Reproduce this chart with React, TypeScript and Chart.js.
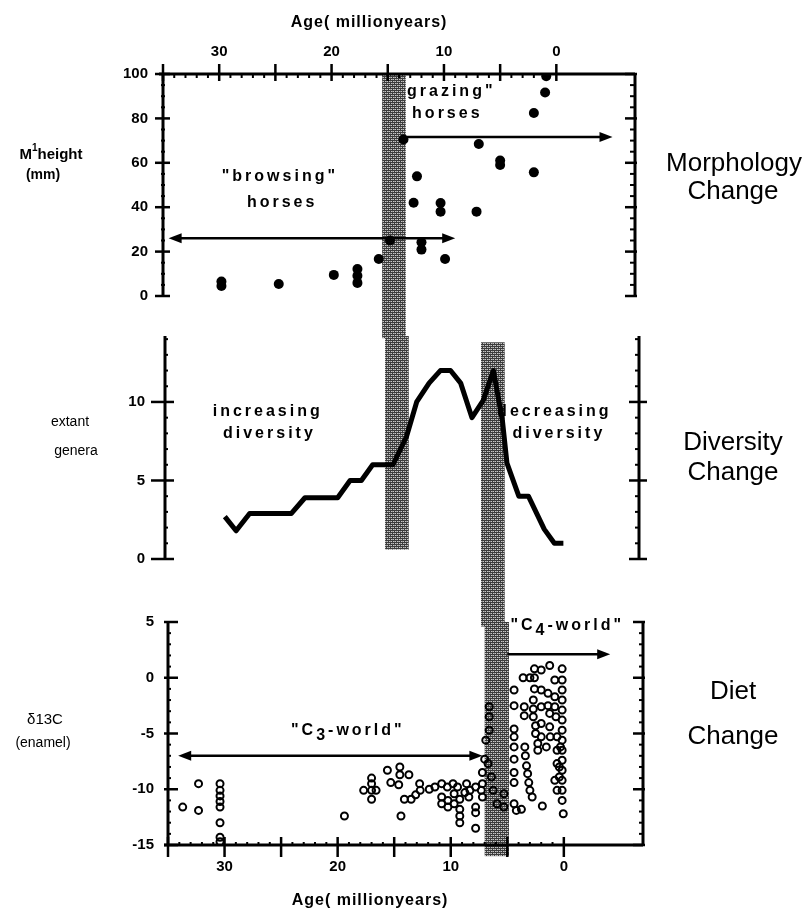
import React, { useEffect, useRef } from 'react';
import { Chart, registerables } from 'chart.js';

Chart.register(...registerables);

// ---------- shared age axis (million years, plotted reversed) ----------
const AGE_MIN = -7;
const AGE_MAX = 35;
const ageLabelTicks = [30, 20, 10, 0];
const ageMajorTicks = [35, 30, 25, 20, 15, 10, 5, 0];
const ageMinorTicks = [34, 33, 32, 31, 29, 28, 27, 26, 24, 23, 22, 21, 19, 18, 17, 16, 14, 13, 12, 11, 9, 8, 7, 6, 4, 3, 2, 1];

// ---------- panel 1: M1 crown height (mm) ----------
const heightTicks = [0, 20, 40, 60, 80, 100];
const heightMinor = [5, 10, 15, 25, 30, 35, 45, 50, 55, 65, 70, 75, 85, 90, 95];
const heightAge = [29.8, 29.8, 24.7, 19.8, 17.7, 17.7, 17.7, 15.8, 14.8, 13.6, 12.4, 12.7, 12.0, 12.0, 10.3, 10.3, 9.9, 7.1, 6.9, 5.0, 5.0, 2.0, 2.0, 1.0, 0.9];
const heightMm = [6.5, 4.5, 5.4, 9.5, 12.2, 9.1, 5.9, 16.7, 25, 70.5, 53.9, 42, 24.2, 20.9, 41.9, 38, 16.7, 38, 68.5, 61, 59, 55.7, 82.4, 91.7, 99];

// ---------- panel 2: extant genera ----------
const generaTicks = [0, 5, 10];
const generaMinor = [1, 2, 3, 4, 6, 7, 8, 9, 11, 12, 13, 14];
const generaAge = [29.7, 28.7, 27.5, 23.8, 22.6, 19.7, 18.6, 17.6, 16.6, 14.8, 13.6, 12.7, 11.6, 10.6, 9.7, 8.8, 7.8, 6.8, 5.9, 5.1, 4.7, 3.65, 2.8, 1.4, 0.5, -0.3];
const generaCount = [2.7, 1.8, 2.9, 2.9, 3.9, 3.9, 5, 5, 6, 6, 7.8, 10, 11.2, 12, 12, 11.2, 9, 10.1, 12, 8.8, 6.1, 4, 4, 1.9, 1, 1];

// ---------- panel 3: delta 13C of enamel ----------
const d13cTicks = [-15, -10, -5, 0, 5];
const d13cMinor = [-14, -13, -12, -11, -9, -8, -7, -6, -4, -3, -2, -1, 1, 2, 3, 4];
const d13cAge = [
  33.7, 32.3, 32.3, 30.4, 30.4, 30.4, 30.4, 30.4, 30.4, 30.4, 30.4,
  19.4, 17.7, 17.0, 17.0, 17.0, 17.0, 16.6, 15.6, 15.3, 14.5, 14.5, 14.6, 13.7, 14.4,
  14.1, 13.5, 13.1, 12.75, 12.7, 11.9, 11.4, 10.8, 10.3, 9.8, 9.4, 8.6, 7.8,
  10.8, 10.8, 10.25, 10.25, 9.7, 9.7, 9.2, 9.2, 9.2, 9.2, 8.75, 8.4, 7.8, 7.8, 7.8,
  8.3, 7.3, 7.2, 7.2, 7.2, 7.0, 6.9, 6.6, 6.6, 6.6, 6.7, 6.4, 6.25, 5.9, 5.3, 5.3,
  4.4, 4.4, 4.4, 4.4, 4.4, 4.4, 4.4, 4.4, 4.4, 4.2, 3.75,
  3.6, 3.5, 3.5, 3.45, 3.4, 3.3, 3.2, 3.1, 3.0, 2.8,
  3.0, 2.6, 2.6, 2.6, 2.7, 2.7, 2.7, 2.5, 2.5, 2.3, 2.3, 1.9,
  2.0, 2.0, 2.0, 2.0, 2.0, 1.25, 1.4, 1.4, 1.25, 1.25, 1.2, 1.55,
  0.8, 0.8, 0.8, 0.7, 0.6, 0.6, 0.6, 0.8, 0.6,
  0.15, 0.15, 0.15, 0.15, 0.15, 0.15, 0.15, 0.15, 0.15, 0.15, 0.15, 0.15, 0.15, 0.15, 0.05,
  0.3, 0.4, 0.4,
];
const d13cValue = [
  -11.6, -9.5, -11.9, -9.5, -10.1, -10.6, -11.1, -11.6, -13.0, -14.3, -14.7,
  -12.4, -10.1, -9.0, -9.5, -10.1, -10.9, -10.1, -8.3, -9.4, -8.0, -8.7, -9.6, -8.7, -12.4,
  -10.9, -10.9, -10.5, -9.5, -10.1, -10.0, -9.8, -9.5, -9.8, -9.5, -9.8, -9.5, -9.8,
  -10.7, -11.3, -11.0, -11.6, -10.4, -11.3, -10.9, -11.8, -12.4, -13.0, -10.3, -10.7, -11.6, -12.1, -13.5,
  -10.1, -10.1, -10.7, -9.5, -8.5, -7.3, -5.6, -2.6, -3.5, -4.7, -7.7, -8.9, -10.1, -11.3, -11.6, -10.4,
  -1.1, -2.5, -4.6, -5.3, -6.2, -7.3, -8.5, -9.4, -11.3, -11.9, -11.8,
  0, -2.6, -3.4, -6.2, -7.0, -7.9, -8.6, -9.4, -10.1, -10.7,
  0, 0.8, 0, -1.0, -2.0, -2.8, -3.5, -4.3, -5.0, -5.9, -6.5, -11.5,
  0.7, -1.1, -2.6, -4.1, -5.3, 1.1, -1.4, -2.5, -3.2, -4.4, -5.3, -6.2,
  -0.2, -1.7, -2.6, -3.5, -5.3, -6.5, -7.7, -9.2, -10.1,
  0.8, -0.2, -1.1, -2.0, -2.9, -3.8, -4.7, -5.6, -6.5, -7.4, -8.3, -9.2, -10.1, -11.0, -12.2,
  -6.2, -8.0, -8.9,
];

// ---------- transition bands (age from, age to, value high, value low in each panel) ----------
const bandTop = [{ from: 15.5, to: 13.4, high: 100, low: -19 }];
const bandMid = [
  { from: 15.5, to: 13.4, high: 14.2, low: 0.6 },
  { from: 7.0, to: 4.9, high: 13.8, low: -4.3 },
];
const bandBot = [{ from: 7.0, to: 4.85, high: 5, low: -16 }];

// ---------- arrows (age from, age to, value) ----------
const arrowsTop = [
  { from: 34.5, to: 9.0, y: 26, both: true },
  { from: 13.6, to: -5.0, y: 71.6, both: false },
];
const arrowsBot = [
  { from: 34.1, to: 7.2, y: -7.0, both: true },
  { from: 5.0, to: -4.1, y: 2.1, both: false },
];

const FONT = '"Liberation Sans", Arial, Helvetica, sans-serif';

type Run = { t: string; dy?: number };
type Note = { runs: Run[]; x: number; y: number };
type Band = { from: number; to: number; high: number; low: number };
type ArrowDef = { from: number; to: number; y: number; both: boolean };
type AxisDef = {
  side: 'top' | 'bottom' | 'left' | 'right';
  majors: number[];
  minors: number[];
  majOut: number;
  majIn: number;
  minOut: number;
  minIn: number;
};

const notesTop: Note[] = [
  { runs: [{ t: '"browsing"' }], x: 24.6, y: 54 },
  { runs: [{ t: 'horses' }], x: 24.4, y: 42 },
  { runs: [{ t: 'grazing"' }], x: 9.35, y: 92.2 },
  { runs: [{ t: 'horses' }], x: 9.7, y: 82 },
];
const notesMid: Note[] = [
  { runs: [{ t: 'increasing' }], x: 25.9, y: 9.4 },
  { runs: [{ t: 'diversity' }], x: 25.75, y: 8.0 },
  { runs: [{ t: 'decreasing' }], x: 0.5, y: 9.4 },
  { runs: [{ t: 'diversity' }], x: 0.1, y: 8.0 },
];
const notesBot: Note[] = [
  { runs: [{ t: '"C' }, { t: '3', dy: 5 }, { t: '-world"' }], x: 19.1, y: -4.7 },
  { runs: [{ t: '"C' }, { t: '4', dy: 5 }, { t: '-world"' }], x: -0.3, y: 4.7 },
];

function bandPattern(ctx: CanvasRenderingContext2D) {
  const c = document.createElement('canvas');
  c.width = 4;
  c.height = 4;
  const g = c.getContext('2d')!;
  g.fillStyle = '#3c3c3c';
  g.fillRect(0, 0, 4, 4);
  g.fillStyle = '#c8c8c8';
  g.fillRect(1, 1, 1, 1);
  g.fillRect(3, 3, 1, 1);
  g.fillRect(1, 3, 1, 1);
  g.fillRect(3, 1, 1, 1);
  g.fillStyle = '#8a8a8a';
  g.fillRect(2, 1, 1, 1);
  g.fillRect(0, 3, 1, 1);
  return ctx.createPattern(c, 'repeat')!;
}

function decor(bands: Band[], axes: AxisDef[], arrows: ArrowDef[], notes: Note[]) {
  return {
    id: 'decor',
    beforeDatasetsDraw(chart: any) {
      const { ctx, scales } = chart;
      const x = scales.x;
      const y = scales.y;
      ctx.save();
      ctx.fillStyle = bandPattern(ctx);
      bands.forEach((b) => {
        const x1 = x.getPixelForValue(b.from);
        const x2 = x.getPixelForValue(b.to);
        const y1 = y.getPixelForValue(b.high);
        const y2 = y.getPixelForValue(b.low);
        ctx.fillRect(Math.min(x1, x2), Math.min(y1, y2), Math.abs(x2 - x1), Math.abs(y2 - y1));
      });
      ctx.restore();
    },
    afterDatasetsDraw(chart: any) {
      const { ctx, scales, chartArea: a } = chart;
      const x = scales.x;
      const y = scales.y;
      ctx.save();
      ctx.strokeStyle = '#000';
      ctx.fillStyle = '#000';
      ctx.lineCap = 'butt';
      axes.forEach((ax) => {
        ctx.lineWidth = 3;
        ctx.beginPath();
        if (ax.side === 'top' || ax.side === 'bottom') {
          const y0 = ax.side === 'top' ? a.top : a.bottom;
          const s = ax.side === 'top' ? -1 : 1;
          ctx.moveTo(a.left - 4, y0);
          ctx.lineTo(a.right, y0);
          ctx.stroke();
          const tick = (v: number, out: number, inn: number, w: number) => {
            const px = x.getPixelForValue(v);
            ctx.lineWidth = w;
            ctx.beginPath();
            ctx.moveTo(px, y0 + s * out);
            ctx.lineTo(px, y0 - s * inn);
            ctx.stroke();
          };
          ax.majors.forEach((v) => tick(v, ax.majOut, ax.majIn, 2.5));
          ax.minors.forEach((v) => tick(v, ax.minOut, ax.minIn, 2));
        } else {
          const x0 = ax.side === 'left' ? a.left : a.right;
          const s = ax.side === 'left' ? -1 : 1;
          ctx.moveTo(x0, a.top);
          ctx.lineTo(x0, a.bottom + 1);
          ctx.stroke();
          const tick = (v: number, out: number, inn: number, w: number) => {
            const py = y.getPixelForValue(v);
            ctx.lineWidth = w;
            ctx.beginPath();
            ctx.moveTo(x0 + s * out, py);
            ctx.lineTo(x0 - s * inn, py);
            ctx.stroke();
          };
          ax.majors.forEach((v) => tick(v, ax.majOut, ax.majIn, 2.5));
          ax.minors.forEach((v) => tick(v, ax.minOut, ax.minIn, 2));
        }
      });
      arrows.forEach((ar) => {
        const x1 = x.getPixelForValue(ar.from);
        const x2 = x.getPixelForValue(ar.to);
        const py = y.getPixelForValue(ar.y);
        const head = 13;
        const half = 5;
        ctx.lineWidth = 2.5;
        ctx.beginPath();
        ctx.moveTo(ar.both ? x1 + head - 2 : x1, py);
        ctx.lineTo(x2 - head + 2, py);
        ctx.stroke();
        ctx.beginPath();
        ctx.moveTo(x2, py);
        ctx.lineTo(x2 - head, py - half);
        ctx.lineTo(x2 - head, py + half);
        ctx.closePath();
        ctx.fill();
        if (ar.both) {
          ctx.beginPath();
          ctx.moveTo(x1, py);
          ctx.lineTo(x1 + head, py - half);
          ctx.lineTo(x1 + head, py + half);
          ctx.closePath();
          ctx.fill();
        }
      });
      ctx.font = 'bold 16px ' + FONT;
      (ctx as any).letterSpacing = '3px';
      ctx.textBaseline = 'middle';
      ctx.textAlign = 'left';
      notes.forEach((n) => {
        const widths = n.runs.map((r) => ctx.measureText(r.t).width);
        const total = widths.reduce((p, q) => p + q, 0);
        let cx = x.getPixelForValue(n.x) - total / 2;
        const cy = y.getPixelForValue(n.y);
        n.runs.forEach((r, i) => {
          ctx.fillText(r.t, cx, cy + (r.dy || 0));
          cx += widths[i];
        });
      });
      ctx.restore();
    },
  };
}

const tickFont = { family: FONT, size: 15, weight: 'bold' as const };

function ageScale(position: 'top' | 'bottom' | 'none') {
  const shown = position !== 'none';
  return {
    type: 'linear' as const,
    display: shown,
    position: shown ? position : 'bottom',
    min: AGE_MIN,
    max: AGE_MAX,
    reverse: true,
    afterBuildTicks: (s: any) => {
      s.ticks = ageLabelTicks.map((v) => ({ value: v }));
    },
    afterFit: (s: any) => {
      s.height = shown ? 40 : 0;
    },
    grid: { display: false, drawTicks: false },
    border: { display: false },
    ticks: { padding: 13, font: tickFont, color: '#000', maxRotation: 0, autoSkip: false },
  };
}

function valueScale(min: number, max: number, ticks: number[], padding: number) {
  return {
    type: 'linear' as const,
    position: 'left' as const,
    min,
    max,
    afterBuildTicks: (s: any) => {
      s.ticks = ticks.map((v) => ({ value: v }));
    },
    afterFit: (s: any) => {
      s.width = 60;
    },
    grid: { display: false, drawTicks: false },
    border: { display: false },
    ticks: { padding, font: tickFont, color: '#000', autoSkip: false },
  };
}

const baseOpts = {
  responsive: false,
  maintainAspectRatio: false,
  animation: false as const,
  events: [] as any[],
  plugins: { legend: { display: false }, tooltip: { enabled: false } },
};

function cfgTop(): any {
  return {
    type: 'scatter',
    data: {
      datasets: [
        {
          data: heightAge.map((a, i) => ({ x: a, y: heightMm[i] })),
          pointRadius: 5,
          pointBackgroundColor: '#000',
          pointBorderWidth: 0,
          pointBorderColor: '#000',
        },
      ],
    },
    options: {
      ...baseOpts,
      layout: { padding: { left: 163 - 60, right: 806 - 635, top: 74 - 40, bottom: 913 - 296 } },
      scales: { x: ageScale('top'), y: valueScale(0, 100, heightTicks, 15) },
    },
    plugins: [
      decor(
        bandTop,
        [
          { side: 'top', majors: ageMajorTicks, minors: ageMinorTicks, majOut: 10, majIn: 7, minOut: 0, minIn: 4 },
          { side: 'left', majors: heightTicks, minors: heightMinor, majOut: 8, majIn: 7, minOut: 2, minIn: 2 },
          { side: 'right', majors: heightTicks, minors: heightMinor, majOut: 2, majIn: 10, minOut: 0, minIn: 5 },
        ],
        arrowsTop,
        notesTop
      ),
    ],
  };
}

function cfgMid(): any {
  return {
    type: 'line',
    data: {
      datasets: [
        {
          data: generaAge.map((a, i) => ({ x: a, y: generaCount[i] })),
          borderColor: '#000',
          borderWidth: 5,
          pointRadius: 0,
          tension: 0,
          fill: false,
          borderJoinStyle: 'round',
        },
      ],
    },
    options: {
      ...baseOpts,
      layout: { padding: { left: 165 - 60, right: 806 - 639, top: 336, bottom: 913 - 559 } },
      scales: { x: ageScale('none'), y: valueScale(0, 14.2, generaTicks, 20) },
    },
    plugins: [
      decor(
        bandMid,
        [
          { side: 'left', majors: generaTicks, minors: generaMinor, majOut: 14, majIn: 9, minOut: 0, minIn: 3 },
          { side: 'right', majors: generaTicks, minors: generaMinor, majOut: 8, majIn: 10, minOut: 0, minIn: 4 },
        ],
        [],
        notesMid
      ),
    ],
  };
}

function cfgBot(): any {
  return {
    type: 'scatter',
    data: {
      datasets: [
        {
          data: d13cAge.map((a, i) => ({ x: a, y: d13cValue[i] })),
          pointRadius: 3.5,
          pointBorderWidth: 2,
          pointBorderColor: '#000',
          pointBackgroundColor: 'rgba(0,0,0,0)',
        },
      ],
    },
    options: {
      ...baseOpts,
      layout: { padding: { left: 168 - 60, right: 806 - 643, top: 622, bottom: 913 - 845 - 40 } },
      scales: { x: ageScale('bottom'), y: valueScale(-15, 5, d13cTicks, 14) },
    },
    plugins: [
      decor(
        bandBot,
        [
          { side: 'bottom', majors: ageMajorTicks, minors: ageMinorTicks, majOut: 12, majIn: 8, minOut: 0, minIn: 3 },
          { side: 'left', majors: d13cTicks, minors: d13cMinor, majOut: 4, majIn: 10, minOut: 0, minIn: 3 },
          { side: 'right', majors: d13cTicks, minors: d13cMinor, majOut: 2, majIn: 10, minOut: 0, minIn: 4 },
        ],
        arrowsBot,
        notesBot
      ),
    ],
  };
}

function Label(props: { x: number; y: number; size: number; bold?: boolean; spacing?: number; children: React.ReactNode }) {
  return (
    <div
      style={{
        position: 'absolute',
        left: props.x,
        top: props.y,
        transform: 'translate(-50%, -50%)',
        whiteSpace: 'nowrap',
        fontSize: props.size,
        fontWeight: props.bold ? 'bold' : 'normal',
        letterSpacing: props.spacing ? props.spacing + 'px' : undefined,
        lineHeight: 1,
      }}
    >
      {props.children}
    </div>
  );
}

export default function App() {
  const r1 = useRef<HTMLCanvasElement>(null);
  const r2 = useRef<HTMLCanvasElement>(null);
  const r3 = useRef<HTMLCanvasElement>(null);

  useEffect(() => {
    const charts = [
      new Chart(r1.current!, cfgTop()),
      new Chart(r2.current!, cfgMid()),
      new Chart(r3.current!, cfgBot()),
    ];
    return () => charts.forEach((c) => c.destroy());
  }, []);

  const cs: React.CSSProperties = { position: 'absolute', left: 0, top: 0 };

  return (
    <div
      style={{
        position: 'absolute',
        left: 0,
        top: 0,
        width: 806,
        height: 913,
        overflow: 'hidden',
        background: '#fff',
        color: '#000',
        fontFamily: FONT,
      }}
    >
      <canvas ref={r1} width={806} height={913} style={cs} />
      <canvas ref={r2} width={806} height={913} style={cs} />
      <canvas ref={r3} width={806} height={913} style={cs} />

      <Label x={369} y={22} size={16} bold spacing={1}>Age( millionyears)</Label>
      <Label x={370} y={900} size={16} bold spacing={1}>Age( millionyears)</Label>

      <Label x={51} y={153} size={15} bold>
        M<sup style={{ fontSize: 10, verticalAlign: 'top', position: 'relative', top: -3 }}>1</sup>height
      </Label>
      <Label x={43} y={174} size={14} bold>(mm)</Label>
      <Label x={70} y={421} size={14}>extant</Label>
      <Label x={76} y={450} size={14}>genera</Label>
      <Label x={45} y={718} size={15}>δ13C</Label>
      <Label x={43} y={742} size={14}>(enamel)</Label>

      <Label x={734} y={162} size={26}>Morphology</Label>
      <Label x={733} y={190} size={26}>Change</Label>
      <Label x={733} y={441} size={26}>Diversity</Label>
      <Label x={733} y={471} size={26}>Change</Label>
      <Label x={733} y={690} size={26}>Diet</Label>
      <Label x={733} y={735} size={26}>Change</Label>
    </div>
  );
}
